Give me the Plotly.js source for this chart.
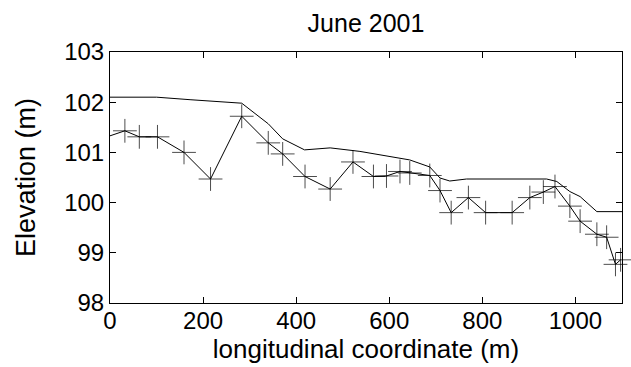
<!DOCTYPE html>
<html>
<head>
<meta charset="utf-8">
<script src="https://cdn.plot.ly/plotly-3.0.1.min.js"></script>
<style>html,body{margin:0;padding:0;background:#fff;}#chart{width:631px;height:367px;}</style>
</head>
<body>
<div id="chart"></div>
<script>
// Upper profile (no markers)
const upperX = [0, 100, 172, 283, 340, 371, 418, 473, 537, 580, 644, 687, 709, 730, 766, 938, 960, 988, 1010, 1046, 1100];
const upperY = [102.1, 102.1, 102.05, 101.98, 101.57, 101.27, 101.05, 101.09, 101.02, 100.95, 100.85, 100.71, 100.49, 100.43, 100.47, 100.47, 100.42, 100.22, 100.12, 99.82, 99.82];

// Lower profile (with + markers)
const lowerX = [0, 32, 63, 102, 159, 216, 283, 340, 371, 419, 473, 522, 566, 594, 623, 644, 687, 709, 733, 770, 807, 864, 902, 931, 956, 988, 1010, 1046, 1067, 1086, 1097];
const lowerY = [101.33, 101.43, 101.31, 101.31, 101.0, 100.47, 101.72, 101.19, 100.97, 100.52, 100.27, 100.81, 100.52, 100.53, 100.62, 100.59, 100.54, 100.24, 99.8, 100.1, 99.8, 99.8, 100.1, 100.21, 100.32, 99.93, 99.63, 99.37, 99.31, 98.77, 98.86];

const xTicks = [0, 200, 400, 600, 800, 1000];
const yTicks = [98, 99, 100, 101, 102, 103];

const markerSizes = lowerX.map((v, i) => (i === 0 ? 0 : 17));

const traces = [
  {
    x: upperX, y: upperY, type: 'scatter', mode: 'lines',
    line: {color: '#000', width: 1}, hoverinfo: 'skip', showlegend: false
  },
  {
    x: lowerX, y: lowerY, type: 'scatter', mode: 'lines+markers',
    line: {color: '#000', width: 1},
    marker: {symbol: 'cross-thin-open', size: markerSizes, color: '#000', line: {color: '#000', width: 1}},
    hoverinfo: 'skip', showlegend: false, cliponaxis: false
  }
];

const axisCommon = {
  showgrid: false, zeroline: false, showline: true, linecolor: '#000', linewidth: 1,
  mirror: 'ticks', ticks: 'inside', ticklen: 6, tickcolor: '#000', tickwidth: 1,
  tickfont: {size: 24, color: '#000'}
};

const layout = {
  width: 631, height: 367,
  margin: {l: 110, r: 9, t: 52, b: 64, pad: 0},
  paper_bgcolor: '#fff', plot_bgcolor: '#fff',
  font: {family: 'Liberation Sans, Arial, sans-serif', color: '#000', size: 24},
  title: {text: 'June 2001', font: {size: 25, color: '#000'}, x: 0.5, xref: 'paper', y: 1 - 23 / 367, yref: 'container', yanchor: 'middle'},
  xaxis: Object.assign({}, axisCommon, {
    range: [0, 1100], tickvals: xTicks, ticktext: xTicks.map(String), ticklabelstandoff: -4,
    title: {text: 'longitudinal coordinate (m)', font: {size: 26, color: '#000'}, standoff: 2}
  }),
  yaxis: Object.assign({}, axisCommon, {
    range: [98, 103], tickvals: yTicks, ticktext: yTicks.map(String),
    title: {text: 'Elevation (m)', font: {size: 27, color: '#000'}, standoff: 20}
  })
};

Plotly.newPlot('chart', traces, layout, {displayModeBar: false, staticPlot: true});
</script>
</body>
</html>
